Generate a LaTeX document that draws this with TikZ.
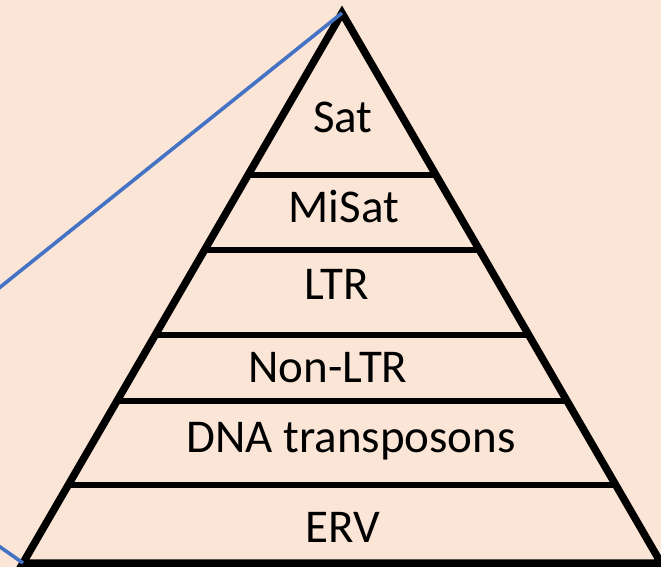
\documentclass[tikz,border=0pt]{standalone}
\usepackage{fontspec}
\setmainfont{Carlito}
\usetikzlibrary{calc}
\definecolor{peach}{HTML}{FBE5D6}
\definecolor{zoomblue}{HTML}{4472C4}
\begin{document}
\begin{tikzpicture}[x=1pt,y=-1pt,
  edge/.style={line width=7.5pt, line join=miter},
  tier/.style={line width=6pt},
  guide/.style={zoomblue, line width=3.6pt},
  lbl/.style={anchor=base, inner sep=0pt, font=\fontsize{47}{56}\selectfont}]
  % canvas
  \fill[peach] (0,0) rectangle (661,567);
  \useasboundingbox (0,0) rectangle (661,567);
  \clip (0,0) rectangle (661,567);
  % pyramid corners and the point the guide lines come from
  \coordinate (apex) at (342,13);
  \coordinate (bl) at (23,563);
  \coordinate (br) at (661,563);
  \coordinate (src) at (-173,426);
  % outline
  \draw[edge] (apex) -- (bl) -- (br) -- cycle;
  % tier dividers
  \foreach \t in {0.2945,0.4309,0.5855,0.7055,0.8582}
    \draw[tier] ($(apex)!\t!(bl)$) -- ($(apex)!\t!(br)$);
  % tier labels
  \node[lbl] (sat)   at (343,133) {Sat};
  \node[lbl] (misat) at (344,222) {MiSat};
  \node[lbl] (ltr)   at (337,299) {LTR};
  \node[lbl] (nonltr) at (328,382) {Non-LTR};
  \node[lbl] (dna)   at (351,452) {DNA transposons};
  \node[lbl] (erv)   at (343,542) {ERV};
  % guide lines
  \draw[guide] (src) -- (apex);
  \draw[guide] (src) -- (bl);
\end{tikzpicture}
\end{document}
